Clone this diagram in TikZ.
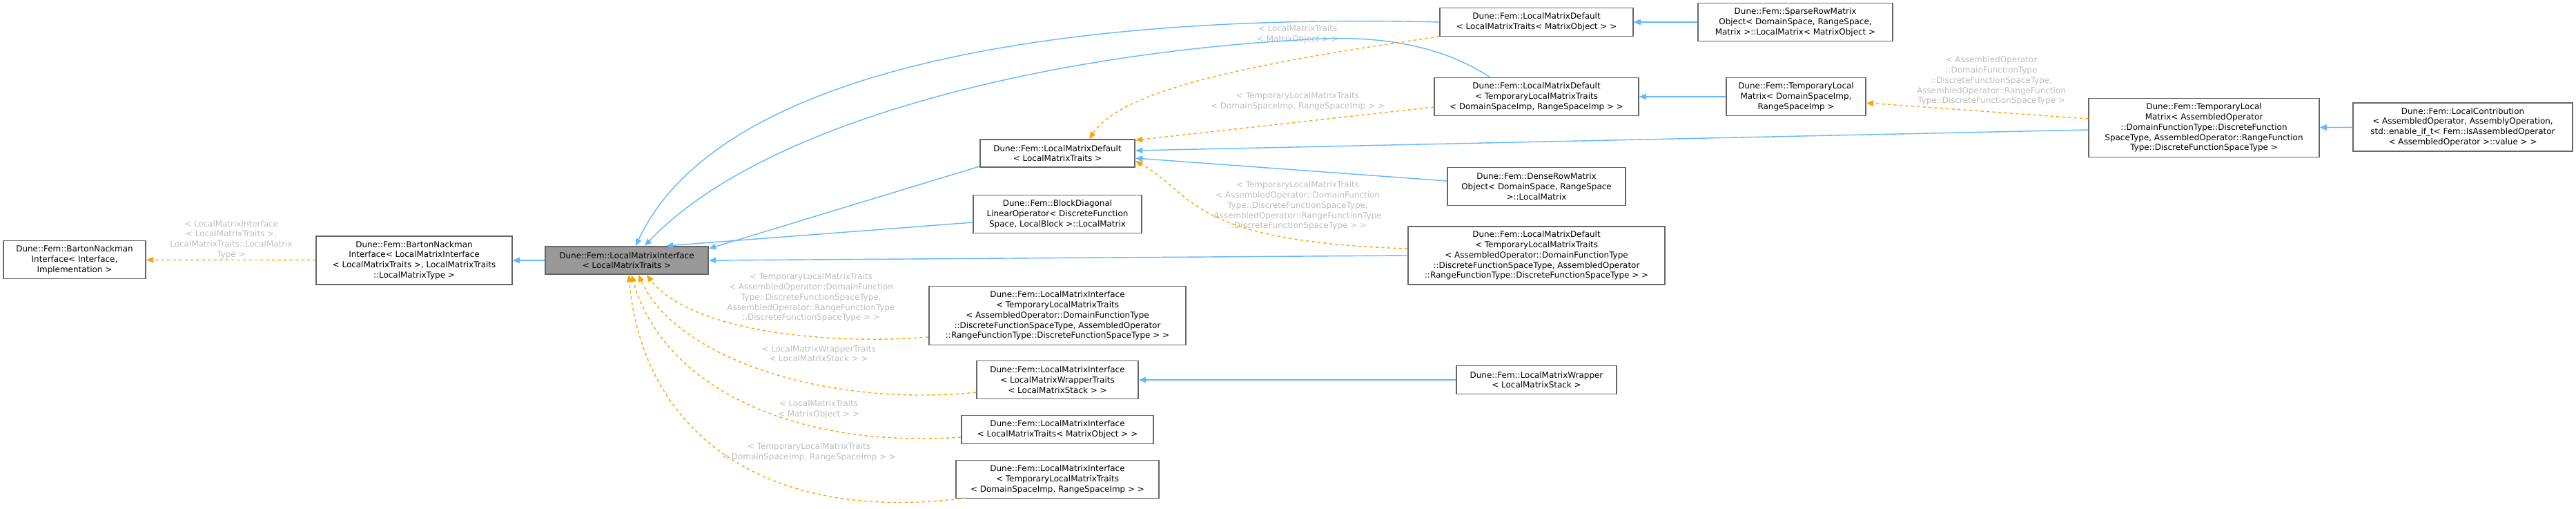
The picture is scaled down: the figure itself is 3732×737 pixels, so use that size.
\documentclass[tikz,border=0pt]{standalone}
\usepackage{fontspec}
\setmainfont{DejaVu Sans}
\usetikzlibrary{arrows.meta}
\usetikzlibrary{calc}
\definecolor{edgeblue}{HTML}{63B8FF}
\definecolor{edgeorange}{HTML}{FFA500}
\definecolor{labelgray}{HTML}{BDBDBD}
\definecolor{boxgray}{HTML}{666666}
\tikzset{
    cls/.style = {rectangle, draw=boxgray, line width=0.55pt, fill=white, align=center, inner sep=1pt, font=\fontsize{3.4pt}{4.2pt}\selectfont, text=black},
    clsmain/.style = {cls, fill=black!40},
    lbl/.style = {align=center, inner sep=0pt, font=\fontsize{3.4pt}{4.2pt}\selectfont, text=labelgray},
    inh/.style = {-{Triangle[length=2.9pt,width=2.4pt]}, line width=0.4pt, edgeblue}, % public
    tmpl/.style = {-{Triangle[length=2.9pt,width=2.4pt]}, line width=0.4pt, edgeorange, dash pattern=on 1.2pt off 1.2pt} % template
}
\begin{document}
\begin{tikzpicture}[x=0.01cm, y=-0.01cm]
  \useasboundingbox (0,0) rectangle (3732,737);
  % classes
  \node[cls, minimum width=2.06cm, minimum height=0.55cm] (barton) at (108,376) {Dune::Fem::BartonNackman\\Interface< Interface,\\Implementation >};
  \node[cls, minimum width=2.83cm, minimum height=0.70cm] (bnli) at (600,377) {Dune::Fem::BartonNackman\\Interface< LocalMatrixInterface\\< LocalMatrixTraits >, LocalMatrixTraits\\::LocalMatrixType >};
  \node[clsmain, minimum width=2.36cm, minimum height=0.40cm] (lmi) at (908,377) {Dune::Fem::LocalMatrixInterface\\< LocalMatrixTraits >};
  \node[cls, minimum width=2.24cm, minimum height=0.40cm] (lmd) at (1532,222) {Dune::Fem::LocalMatrixDefault\\< LocalMatrixTraits >};
  \node[cls, minimum width=2.43cm, minimum height=0.55cm] (blockdiag) at (1532,310) {Dune::Fem::BlockDiagonal\\LinearOperator< DiscreteFunction\\Space, LocalBlock >::LocalMatrix};
  \node[cls, minimum width=3.72cm, minimum height=0.85cm] (lmiasm) at (1532,457) {Dune::Fem::LocalMatrixInterface\\< TemporaryLocalMatrixTraits\\< AssembledOperator::DomainFunctionType\\::DiscreteFunctionSpaceType, AssembledOperator\\::RangeFunctionType::DiscreteFunctionSpaceType > >};
  \node[cls, minimum width=2.34cm, minimum height=0.55cm] (lmiwrap) at (1532,550) {Dune::Fem::LocalMatrixInterface\\< LocalMatrixWrapperTraits\\< LocalMatrixStack > >};
  \node[cls, minimum width=2.78cm, minimum height=0.41cm] (lmimo) at (1532,622) {Dune::Fem::LocalMatrixInterface\\< LocalMatrixTraits< MatrixObject > >};
  \node[cls, minimum width=2.94cm, minimum height=0.55cm] (lmitmp) at (1532,694) {Dune::Fem::LocalMatrixInterface\\< TemporaryLocalMatrixTraits\\< DomainSpaceImp, RangeSpaceImp > >};
  \node[cls, minimum width=2.79cm, minimum height=0.41cm] (lmdmo) at (2226,32) {Dune::Fem::LocalMatrixDefault\\< LocalMatrixTraits< MatrixObject > >};
  \node[cls, minimum width=2.95cm, minimum height=0.55cm] (lmdtmp) at (2226,140) {Dune::Fem::LocalMatrixDefault\\< TemporaryLocalMatrixTraits\\< DomainSpaceImp, RangeSpaceImp > >};
  \node[cls, minimum width=2.58cm, minimum height=0.55cm] (dense) at (2226,270) {Dune::Fem::DenseRowMatrix\\Object< DomainSpace, RangeSpace\\>::LocalMatrix};
  \node[cls, minimum width=3.71cm, minimum height=0.84cm] (lmdasm) at (2226,370) {Dune::Fem::LocalMatrixDefault\\< TemporaryLocalMatrixTraits\\< AssembledOperator::DomainFunctionType\\::DiscreteFunctionSpaceType, AssembledOperator\\::RangeFunctionType::DiscreteFunctionSpaceType > >};
  \node[cls, minimum width=2.31cm, minimum height=0.41cm] (wrapper) at (2226,550) {Dune::Fem::LocalMatrixWrapper\\< LocalMatrixStack >};
  \node[cls, minimum width=2.81cm, minimum height=0.55cm] (sparse) at (2601,32) {Dune::Fem::SparseRowMatrix\\Object< DomainSpace, RangeSpace,\\Matrix >::LocalMatrix< MatrixObject >};
  \node[cls, minimum width=2.02cm, minimum height=0.55cm] (templocal) at (2602,140) {Dune::Fem::TemporaryLocal\\Matrix< DomainSpaceImp,\\RangeSpaceImp >};
  \node[cls, minimum width=3.33cm, minimum height=0.85cm] (tlmasm) at (3193,185) {Dune::Fem::TemporaryLocal\\Matrix< AssembledOperator\\::DomainFunctionType::DiscreteFunction\\SpaceType, AssembledOperator::RangeFunction\\Type::DiscreteFunctionSpaceType >};
  \node[cls, minimum width=3.17cm, minimum height=0.70cm] (contrib) at (3568,184) {Dune::Fem::LocalContribution\\< AssembledOperator, AssemblyOperation,\\std::enable\_if\_t< Fem::IsAssembledOperator\\< AssembledOperator >::value > >};
  % edge labels
  \node[lbl] (l-barton) at (335,347) {< LocalMatrixInterface\\< LocalMatrixTraits >,\\LocalMatrixTraits::LocalMatrix\\Type >};
  \node[lbl] (l-lmdmo) at (1880,50) {< LocalMatrixTraits\\< MatrixObject > >};
  \node[lbl] (l-lmdtmp) at (1880,147) {< TemporaryLocalMatrixTraits\\< DomainSpaceImp, RangeSpaceImp > >};
  \node[lbl] (l-lmdasm) at (1880,298) {< TemporaryLocalMatrixTraits\\< AssembledOperator::DomainFunction\\Type::DiscreteFunctionSpaceType,\\AssembledOperator::RangeFunctionType\\::DiscreteFunctionSpaceType > >};
  \node[lbl] (l-templocal) at (2885,117) {< AssembledOperator\\::DomainFunctionType\\::DiscreteFunctionSpaceType,\\AssembledOperator::RangeFunction\\Type::DiscreteFunctionSpaceType >};
  \node[lbl] (l-lmiasm) at (1175,431) {< TemporaryLocalMatrixTraits\\< AssembledOperator::DomainFunction\\Type::DiscreteFunctionSpaceType,\\AssembledOperator::RangeFunctionType\\::DiscreteFunctionSpaceType > >};
  \node[lbl] (l-lmiwrap) at (1186,512) {< LocalMatrixWrapperTraits\\< LocalMatrixStack > >};
  \node[lbl] (l-lmimo) at (1186,593) {< LocalMatrixTraits\\< MatrixObject > >};
  \node[lbl] (l-lmitmp) at (1172,655) {< TemporaryLocalMatrixTraits\\< DomainSpaceImp, RangeSpaceImp > >};
  % inheritance
  \draw[tmpl] (bnli) -- (barton);
  \draw[inh] (lmi) -- (bnli);
  \draw[inh] (lmdmo.west) .. controls (1600,20) and (1050,80) .. ($(lmi.north)+(13,0)$);
  \draw[inh] ($(lmdtmp.north)+(-68,0)$) .. controls (2080,60) and (1980,50) .. (1880,58) .. controls (1500,80) and (1100,180) .. ($(lmi.north)+(26,0)$);
  \draw[inh] ($(lmd.west)+(0,19)$) -- ($(lmi.east)+(0,-17)$);
  \draw[inh] ($(blockdiag.west)+(0,12)$) -- ($(lmi.north)+(57,0)$);
  \draw[inh] (lmdasm.west) -- (lmi.east);
  \draw[tmpl] ($(lmdmo.west)+(0,21)$) .. controls (1750,100) and (1620,140) .. ($(lmd.north)+(46,0)$);
  \draw[tmpl] ($(lmdtmp.west)+(0,15)$) -- ($(lmd.east)+(0,-19)$);
  \draw[tmpl] ($(lmdasm.west)+(0,-10)$) .. controls (1720,350) and (1730,280) .. ($(lmd.east)+(0,11)$);
  \draw[inh] ($(tlmasm.west)+(0,3)$) -- ($(lmd.east)+(0,-4)$);
  \draw[inh] ($(dense.west)+(0,-8)$) -- ($(lmd.east)+(0,7)$);
  \draw[inh] (sparse) -- (lmdmo);
  \draw[inh] (templocal) -- (lmdtmp);
  \draw[tmpl] ($(tlmasm.west)+(0,-13)$) -- ($(templocal.east)+(0,9)$);
  \draw[inh] (contrib) -- (tlmasm);
  \draw[inh] (wrapper) -- (lmiwrap);
  \draw[tmpl] ($(lmiasm.west)+(0,31)$) .. controls (1200,500) and (1000,480) .. ($(lmi.south)+(29,0)$);
  \draw[tmpl] ($(lmiwrap.west)+(0,18)$) .. controls (1200,590) and (980,520) .. ($(lmi.south)+(17,0)$);
  \draw[tmpl] ($(lmimo.west)+(0,11)$) .. controls (1150,650) and (960,560) .. ($(lmi.south)+(7,0)$);
  \draw[tmpl] ($(lmitmp.west)+(15,27)$) .. controls (1100,760) and (930,620) .. ($(lmi.south)+(3,0)$);
\end{tikzpicture}
\end{document}
